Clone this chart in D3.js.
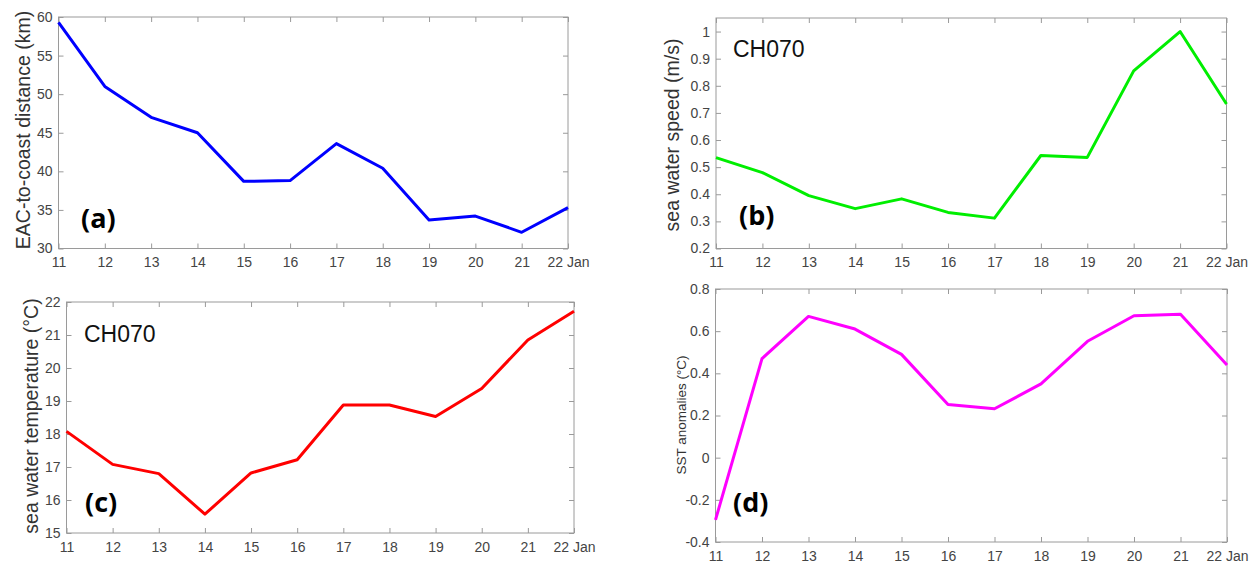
<!DOCTYPE html>
<html lang="en">
<head>
  <meta charset="UTF-8">
  <title>EAC-to-coast distance, sea water speed, temperature and SST anomalies</title>
  <script src="https://d3js.org/d3.v7.min.js"></script>
  <style>
    body {
      margin: 0;
      background: #fff;
      font-family: "Liberation Sans", Arial, sans-serif;
    }
    .frame {
      fill: none;
      stroke: #9a9a9a;
      stroke-width: 1;
    }
    .tick line {
      stroke: #9a9a9a;
    }
    .tick text {
      fill: #444;
      font-size: 14px;
      font-family: "Liberation Sans", Arial, sans-serif;
    }
    .ylabel {
      fill: #333;
      font-family: "Liberation Sans", Arial, sans-serif;
    }
    .tag {
      font-family: "Open Sans", sans-serif;
      font-weight: bold;
      font-size: 27px;
      fill: #000;
    }
    .station {
      font-family: "Liberation Sans", Arial, sans-serif;
      font-size: 23px;
      fill: #111;
    }
  </style>
</head>
<body>
  <div id="chart"></div>

  <script>
    // Days of January on the x axis
    const days = [11, 12, 13, 14, 15, 16, 17, 18, 19, 20, 21, 22];
    const dayLabels = ["11", "12", "13", "14", "15", "16", "17", "18", "19", "20", "21", "22 Jan"];

    // (a) EAC-to-coast distance (km)
    const distance = [59.3, 51.0, 47.0, 45.0, 38.7, 38.8, 43.6, 40.4, 33.7, 34.2, 32.1, 35.3];
    const distanceTicks = [30, 35, 40, 45, 50, 55, 60];

    // (b) sea water speed at CH070 (m/s)
    const speed = [0.535, 0.48, 0.395, 0.347, 0.383, 0.333, 0.312, 0.543, 0.536, 0.855, 1.0, 0.733];
    const speedTicks = [0.2, 0.3, 0.4, 0.5, 0.6, 0.7, 0.8, 0.9, 1];

    // (c) sea water temperature at CH070 (°C)
    const temperature = [18.08, 17.08, 16.8, 15.57, 16.82, 17.22, 18.88, 18.88, 18.53, 19.38, 20.85, 21.72];
    const temperatureTicks = [15, 16, 17, 18, 19, 20, 21, 22];

    // (d) SST anomalies (°C)
    const sstAnomaly = [-0.295, 0.47, 0.67, 0.61, 0.49, 0.252, 0.232, 0.35, 0.552, 0.673, 0.68, 0.44];
    const sstTicks = [-0.4, -0.2, 0, 0.2, 0.4, 0.6, 0.8];

    const panels = [
      {values: distance, ticks: distanceTicks, domain: [30, 60], color: "#0000ff",
       box: {left: 58.5, right: 568, top: 17, bottom: 248.5},
       label: "EAC-to-coast distance (km)", labelSize: 19.5, labelX: 30, labelY: 130,
       tag: "(a)", tagX: 81, tagY: 228},
      {values: speed, ticks: speedTicks, domain: [0.2, 1.05], color: "#00ee00",
       box: {left: 716, right: 1226.5, top: 18, bottom: 248.5},
       label: "sea water speed (m/s)", labelSize: 19.5, labelX: 679, labelY: 135,
       tag: "(b)", tagX: 739, tagY: 225, station: "CH070", stationX: 733, stationY: 57},
      {values: temperature, ticks: temperatureTicks, domain: [15, 22], color: "#ff0000",
       box: {left: 66.5, right: 574, top: 302, bottom: 533},
       label: "sea water temperature (°C)", labelSize: 19.5, labelX: 38, labelY: 416,
       tag: "(c)", tagX: 85, tagY: 512, station: "CH070", stationX: 84, stationY: 342},
      {values: sstAnomaly, ticks: sstTicks, domain: [-0.4, 0.8], color: "#ff00ff",
       box: {left: 715.5, right: 1227, top: 289, bottom: 542},
       label: "SST anomalies (°C)", labelSize: 13.5, labelX: 686, labelY: 415,
       tag: "(d)", tagX: 733, tagY: 512}
    ];

    const svg = d3.select("#chart")
                  .append("svg")
                  .attr("width", 1255)
                  .attr("height", 565);

    const fmt = d => String(+d.toFixed(2));
    const tickLen = 5;

    panels.forEach(p => {
      const b = p.box;
      const x = d3.scaleLinear().domain([11, 22]).range([b.left, b.right]);
      const y = d3.scaleLinear().domain(p.domain).range([b.bottom, b.top]);

      const g = svg.append("g");

      // box with inward ticks on all four sides (MATLAB style)
      g.append("g")
       .attr("transform", `translate(0,${b.bottom})`)
       .call(d3.axisBottom(x).tickValues(days).tickSize(-tickLen).tickPadding(9)
               .tickFormat((d, i) => dayLabels[i]))
       .call(a => a.select(".domain").remove());

      g.append("g")
       .attr("transform", `translate(0,${b.top})`)
       .call(d3.axisTop(x).tickValues(days).tickSize(-tickLen).tickFormat(""))
       .call(a => a.select(".domain").remove());

      g.append("g")
       .attr("transform", `translate(${b.left},0)`)
       .call(d3.axisLeft(y).tickValues(p.ticks).tickSize(-tickLen).tickPadding(6).tickFormat(fmt))
       .call(a => a.select(".domain").remove());

      g.append("g")
       .attr("transform", `translate(${b.right},0)`)
       .call(d3.axisRight(y).tickValues(p.ticks).tickSize(-tickLen).tickFormat(""))
       .call(a => a.select(".domain").remove());

      g.append("rect")
       .attr("class", "frame")
       .attr("x", b.left)
       .attr("y", b.top)
       .attr("width", b.right - b.left)
       .attr("height", b.bottom - b.top);

      const line = d3.line()
                     .x((d, i) => x(days[i]))
                     .y(d => y(d));

      g.append("path")
       .datum(p.values)
       .attr("d", line)
       .attr("fill", "none")
       .attr("stroke", p.color)
       .attr("stroke-width", 3)
       .attr("stroke-linejoin", "round");

      g.append("text")
       .attr("class", "ylabel")
       .attr("transform", `translate(${p.labelX},${p.labelY}) rotate(-90)`)
       .attr("text-anchor", "middle")
       .style("font-size", p.labelSize + "px")
       .text(p.label);

      g.append("text")
       .attr("class", "tag")
       .attr("x", p.tagX)
       .attr("y", p.tagY)
       .text(p.tag);

      if (p.station) {
        g.append("text")
         .attr("class", "station")
         .attr("x", p.stationX)
         .attr("y", p.stationY)
         .text(p.station);
      }
    });
  </script>
</body>
</html>
